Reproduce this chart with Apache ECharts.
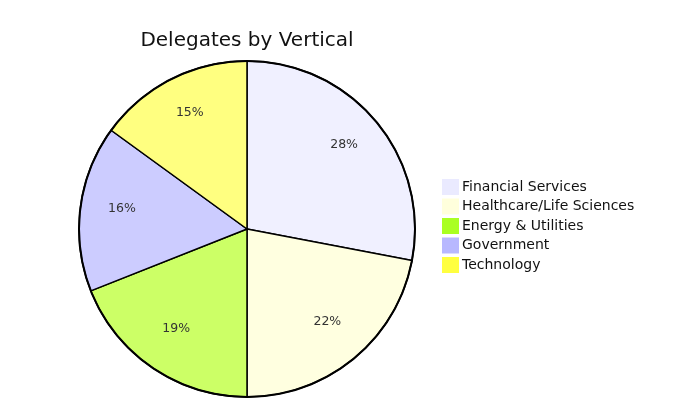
<!DOCTYPE html>
<html><head><meta charset="utf-8">
<script src="https://cdn.jsdelivr.net/npm/echarts@6/dist/echarts.min.js"></script>
<style>html,body{margin:0;padding:0;background:#fff}#c{width:675px;height:400px}</style>
</head><body><div id="c"></div>
<script>
const categories = ["Financial Services", "Healthcare/Life Sciences", "Energy & Utilities", "Government", "Technology"];
const values = [28, 22, 19, 16, 15];
const sliceColors = ["#f0f0ff", "#ffffe0", "#ccff66", "#ccccff", "#ffff80"];
const legendColors = ["#eaeaff", "#ffffdc", "#aaff22", "#b8b8ff", "#ffff40"];

const font = "DejaVu Sans";
const chart = echarts.init(document.getElementById('c'), null, {renderer: 'canvas'});
const data = categories.map((n, i) => ({name: n, value: values[i], itemStyle: {color: sliceColors[i]}}));
chart.setOption({
  animation: false,
  title: {text: "Delegates by Vertical", left: 247, top: 31, textAlign: 'center', padding: 0,
    textStyle: {fontFamily: font, fontSize: 20, fontWeight: 'normal', color: '#111'}},
  legend: {orient: 'vertical', left: 442, top: 179, padding: 0, itemWidth: 17, itemHeight: 16, itemGap: 3.5,
    icon: 'rect', selectedMode: false,
    textStyle: {fontFamily: font, fontSize: 14, color: '#111', padding: [0, 0, 0, -2]},
    data: categories.map((n, i) => ({name: n, itemStyle: {color: legendColors[i], borderWidth: 0}}))},
  series: [
    {type: 'pie', center: [247, 229], radius: [0, 168], startAngle: 90, clockwise: true,
      silent: true, label: {show: false}, labelLine: {show: false},
      itemStyle: {borderColor: '#000', borderWidth: 1.5}, data: data},
    {type: 'pie', center: [247, 229], radius: [78, 168], startAngle: 90, clockwise: true,
      silent: true, legendHoverLink: false,
      itemStyle: {color: 'rgba(0,0,0,0)', borderWidth: 0},
      label: {show: true, position: 'inside', formatter: p => p.value + '%', offset: [0, -4],
        fontFamily: font, fontSize: 12.5, color: '#333'},
      labelLine: {show: false},
      data: categories.map((n, i) => ({name: n + ' ', value: values[i]}))},
    {type: 'pie', center: [247, 229], radius: [167, 169], startAngle: 90, silent: true,
      itemStyle: {color: '#000'}, label: {show: false}, data: [{name: '', value: 1}]}
  ]
});
</script></body></html>
